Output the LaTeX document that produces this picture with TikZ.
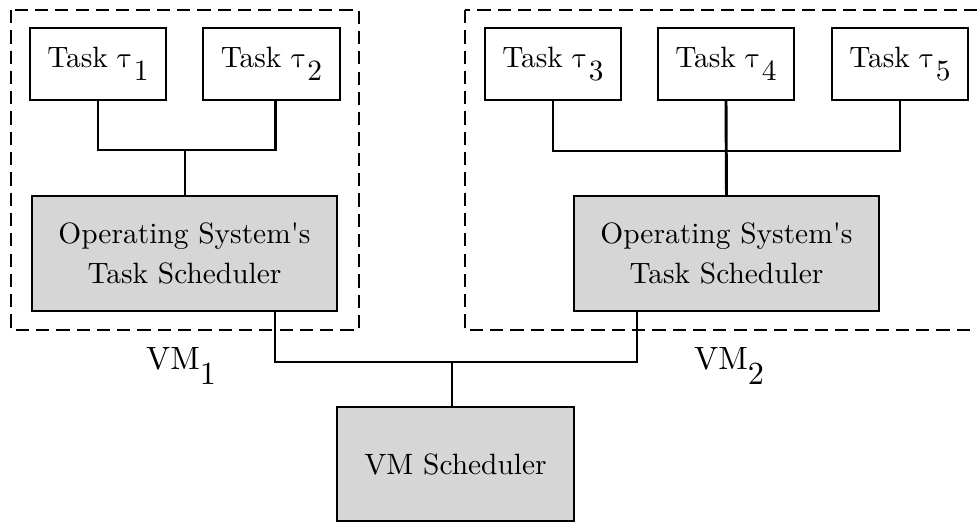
\documentclass[tikz,border=0pt]{standalone}
\usepackage{unicode-math}
\setmathfont{Latin Modern Math}
\definecolor{boxgray}{RGB}{214,214,214}
\newcommand{\lowsub}[1]{\raisebox{-0.44em}{#1}}
\newcommand{\tsk}[1]{Task $\uptau$\kern0.2pt\lowsub{#1}}
\begin{document}
\begin{tikzpicture}[x=0.34pt,y=-0.34pt,
  every node/.style={inner sep=0pt, outer sep=0pt},
  taskbox/.style={draw, line width=1pt, minimum width=136*0.34pt, minimum height=72*0.34pt},
  schedbox/.style={draw, line width=1pt, fill=boxgray, align=center},
  vmlabel/.style={font=\fontsize{10.95}{13}\selectfont},
  vmframe/.style={draw, line width=1pt, dash pattern=on 4.5pt off 2.4pt},
  wire/.style={line width=1pt}]
\useasboundingbox (0,0) rectangle (977,523);
\clip (0,0) rectangle (977,523);
% frames
\draw[vmframe] (11,10) rectangle (359,330);
\draw[vmframe] (465,10) rectangle (1000,330);
% tasks
\node[taskbox] (t1) at (98,64) {\tsk{1}};
\node[taskbox, minimum width=137*0.34pt] (t2) at (271.5,64) {\tsk{2}};
\node[taskbox] (t3) at (553,64) {\tsk{3}};
\node[taskbox] (t4) at (726,64) {\tsk{4}};
\node[taskbox] (t5) at (900,64) {\tsk{5}};
% schedulers
\node[schedbox, minimum width=305*0.34pt, minimum height=115*0.34pt] (os1) at (184.5,253.5) {Operating System\textquotesingle s\\[1.3pt]Task Scheduler};
\node[schedbox, minimum width=305*0.34pt, minimum height=115*0.34pt] (os2) at (726.5,253.5) {Operating System\textquotesingle s\\[1.3pt]Task Scheduler};
\node[schedbox, minimum width=237*0.34pt, minimum height=114*0.34pt] (vms) at (455.5,464) {VM Scheduler};
% labels
\node[vmlabel] (vm1) at (181,366) {VM\lowsub{1}};
\node[vmlabel] (vm2) at (729,366) {VM\lowsub{2}};
% junctions
\coordinate (j1) at (185,150);
\coordinate (j2) at (726,151);
\coordinate (b1) at (275,362);
\coordinate (b2) at (637,362);
\coordinate (bm) at (452,362);
% wires
\draw[wire] (t1.south) |- (j1) -| ([xshift=1.4pt]t2.south);
\draw[wire] (j1) -- (j1 |- os1.north);
\draw[wire] (t3.south) |- (j2) -| (t5.south);
\draw[wire] (t4.south) -- (os2.north);
\draw[wire] (b1 |- os1.south) -- (b1) -- (b2) -- (b2 |- os2.south);
\draw[wire] (bm) -- (bm |- vms.north);
\end{tikzpicture}
\end{document}
